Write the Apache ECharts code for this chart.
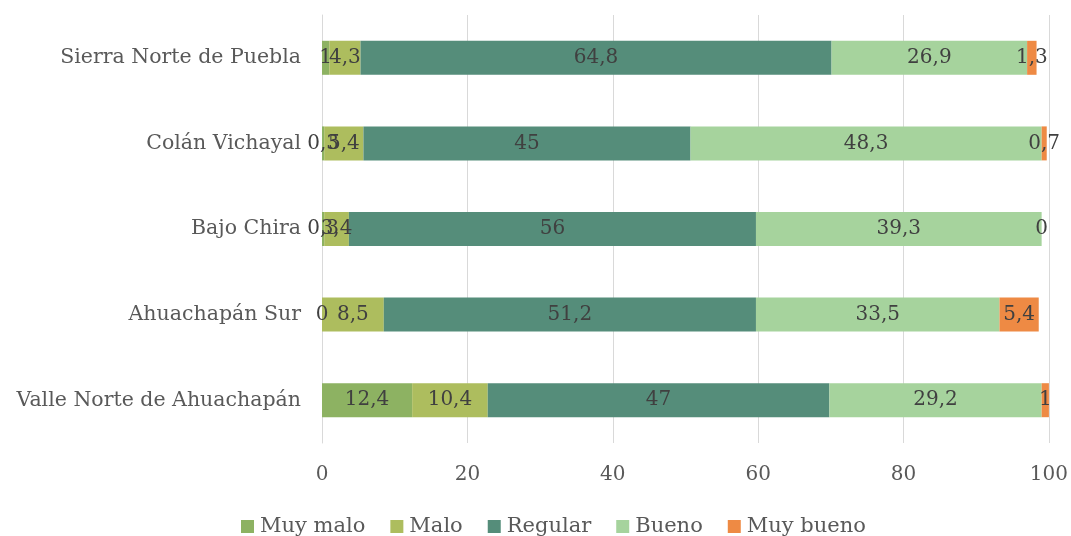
<!DOCTYPE html>
<html>
  <head>
    <meta charset="UTF-8" />
    <title>Valoración por territorio</title>
    <style>
      html, body { margin: 0; padding: 0; background: #fff; }
      #chart { width: 1071px; height: 536px; }
    </style>
    <script src="https://cdn.jsdelivr.net/npm/echarts@6/dist/echarts.min.js"></script>
  </head>
  <body>
    <div id="chart"></div>
    <script>
      // categorias de abajo hacia arriba
      var territorios = [
        "Valle Norte de Ahuachapán",
        "Ahuachapán Sur",
        "Bajo Chira",
        "Colán Vichayal",
        "Sierra Norte de Puebla"
      ];
      var muyMalo = [12.4, 0, 0.3, 0.3, 1];
      var malo = [10.4, 8.5, 3.4, 5.4, 4.3];
      var regular = [47, 51.2, 56, 45, 64.8];
      var bueno = [29.2, 33.5, 39.3, 48.3, 26.9];
      var muyBueno = [1, 5.4, 0, 0.7, 1.3];
      var ticks = [0, 20, 40, 60, 80, 100];

      var fuente = "DejaVu Serif";
      var chart = echarts.init(document.getElementById("chart"));

      function serie(nombre, datos, color) {
        return {
          name: nombre,
          type: "bar",
          stack: "total",
          barWidth: 34,
          data: datos,
          itemStyle: { color: color },
          label: {
            show: true,
            position: "inside",
            color: "#404040",
            fontFamily: fuente,
            fontSize: 20,
            formatter: function (p) {
              return String(p.value).replace(".", ",");
            }
          }
        };
      }

      chart.setOption({
        animation: false,
        textStyle: { fontFamily: fuente },
        grid: { left: 322, right: 22, top: 15, bottom: 93 },
        legend: {
          top: 511,
          left: 236,
          itemWidth: 13,
          itemHeight: 13,
          itemGap: 25,
          icon: "rect",
          textStyle: { color: "#595959", fontSize: 21, fontFamily: fuente, padding: [0, 0, 0, 1] }
        },
        xAxis: {
          type: "value",
          min: ticks[0],
          max: ticks[ticks.length - 1],
          interval: 20,
          axisLine: { show: false },
          axisTick: { show: false },
          splitLine: { lineStyle: { color: "#d9d9d9" } },
          axisLabel: { color: "#595959", fontSize: 20, margin: 22, fontFamily: fuente }
        },
        yAxis: {
          type: "category",
          data: territorios,
          axisLine: { show: true, lineStyle: { color: "#d9d9d9" } },
          axisTick: { show: false },
          axisLabel: { color: "#595959", fontSize: 20.5, margin: 21, fontFamily: fuente }
        },
        series: [
          serie("Muy malo", muyMalo, "#8db262"),
          serie("Malo", malo, "#adbd5e"),
          serie("Regular", regular, "#558d7a"),
          serie("Bueno", bueno, "#a6d39d"),
          serie("Muy bueno", muyBueno, "#ee8a44")
        ]
      });
    </script>
  </body>
</html>
